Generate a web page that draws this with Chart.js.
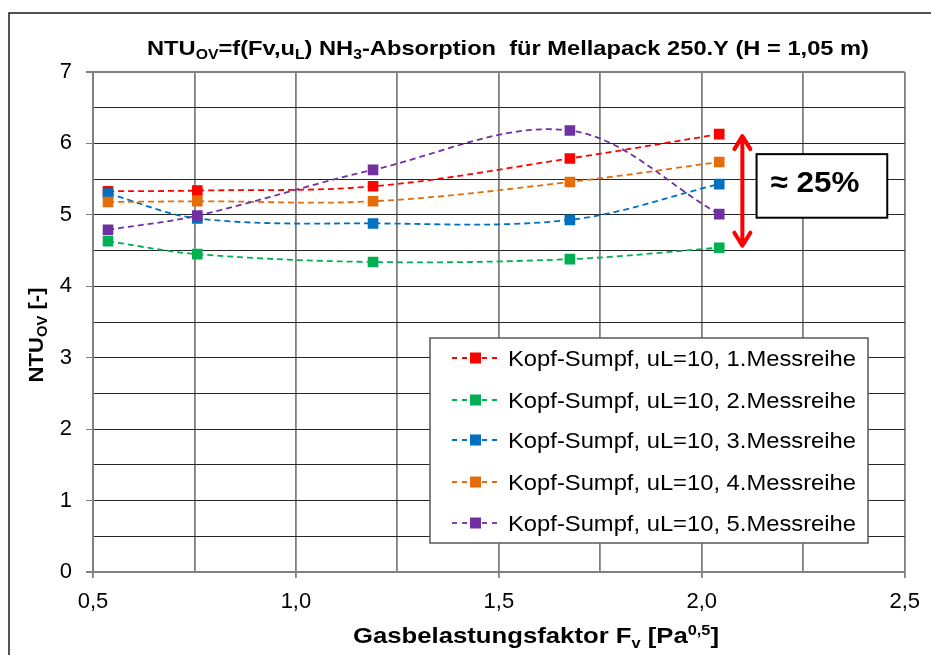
<!DOCTYPE html>
<html>
<head>
<meta charset="utf-8">
<script src="https://cdn.jsdelivr.net/npm/chart.js@4/dist/chart.umd.min.js"></script>
<style>
  html, body { margin: 0; padding: 0; background: #fff; }
  canvas { display: block; }
</style>
</head>
<body>
<canvas id="c" width="931" height="655"></canvas>
<script>
// Gas load factor Fv [Pa^0,5] of the five measuring points
const fvValues = [0.537, 0.757, 1.19, 1.675, 2.043];

// NTU_OV per measurement run
const messreihe1 = [5.33, 5.34, 5.40, 5.79, 6.13];
const messreihe2 = [4.63, 4.45, 4.34, 4.38, 4.54];
const messreihe3 = [5.30, 4.95, 4.88, 4.93, 5.43];
const messreihe4 = [5.18, 5.19, 5.19, 5.46, 5.74];
const messreihe5 = [4.79, 4.99, 5.63, 6.18, 5.01];

const seriesLabels = [
  'Kopf-Sumpf, uL=10, 1.Messreihe',
  'Kopf-Sumpf, uL=10, 2.Messreihe',
  'Kopf-Sumpf, uL=10, 3.Messreihe',
  'Kopf-Sumpf, uL=10, 4.Messreihe',
  'Kopf-Sumpf, uL=10, 5.Messreihe'
];
const seriesColors = ['#ff0000', '#00b050', '#0070c0', '#e46c0a', '#7030a0'];

const xTickLabels = ['0,5', '1,0', '1,5', '2,0', '2,5'];
const yTickLabels = ['0', '1', '2', '3', '4', '5', '6', '7'];

const spreadLabel = '≈ 25%';

const FONT = "'Liberation Sans', Arial, sans-serif";
const TEXT_SX = 1.08; // slightly widened lettering

const allSeries = [messreihe1, messreihe2, messreihe3, messreihe4, messreihe5];

const datasets = allSeries.map((vals, i) => ({
  label: seriesLabels[i],
  data: vals.map((v, k) => ({ x: fvValues[k], y: v })),
  borderColor: seriesColors[i],
  backgroundColor: seriesColors[i],
  borderWidth: 1.8,
  borderDash: [6, 4],
  tension: 0.35,
  pointStyle: 'rect',
  pointRadius: 7.5,
  pointBorderWidth: 0,
  pointHoverRadius: 7.5,
  order: allSeries.length - i   // later runs on top
}));

function richWidth(ctx, parts, size, weight) {
  let w = 0;
  for (const [t, m] of parts) {
    const s = m === 'n' ? size : Math.round(size * 0.65);
    ctx.font = `${weight} ${s}px ${FONT}`;
    w += ctx.measureText(t).width;
  }
  return w;
}

// text with sub/superscript runs, centred on (cx, cy); fitW stretches it to a given width
function drawRich(ctx, parts, cx, cy, size, weight, sx, align, fitW) {
  ctx.save();
  ctx.translate(cx, cy);
  const w = richWidth(ctx, parts, size, weight);
  if (fitW) sx = fitW / w;
  ctx.scale(sx, 1);
  let x = align === 'left' ? 0 : -w / 2;
  ctx.textBaseline = 'alphabetic';
  ctx.textAlign = 'left';
  ctx.fillStyle = '#000';
  const base = size * 0.358;
  for (const [t, m] of parts) {
    const s = m === 'n' ? size : Math.round(size * 0.65);
    ctx.font = `${weight} ${s}px ${FONT}`;
    const dy = m === 'sub' ? size * 0.22 : (m === 'sup' ? -size * 0.36 : 0);
    ctx.fillText(t, x, base + dy);
    x += ctx.measureText(t).width;
  }
  ctx.restore();
}

const decorPlugin = {
  id: 'decor',
  beforeDraw(chart) {
    const ctx = chart.ctx;
    ctx.save();
    ctx.fillStyle = '#fff';
    ctx.fillRect(0, 0, chart.width, chart.height);
    ctx.restore();
  },
  afterDraw(chart) {
    const ctx = chart.ctx;
    const xs = chart.scales.x, ys = chart.scales.y;

    // outer frame
    ctx.save();
    ctx.strokeStyle = '#1a1a1a';
    ctx.lineWidth = 1.5;
    ctx.beginPath();
    ctx.moveTo(9, chart.height + 2);
    ctx.lineTo(9, 13);
    ctx.lineTo(chart.width + 2, 13);
    ctx.stroke();
    ctx.restore();

    // chart title
    drawRich(ctx, [
      ['NTU', 'n'], ['OV', 'sub'], ['=f(Fv,u', 'n'], ['L', 'sub'],
      [') NH', 'n'], ['3', 'sub'], ['-Absorption  für Mellapack 250.Y (H = 1,05 m)', 'n']
    ], 508, 47, 21, 'bold', 1, 'center', 722);

    // axis titles
    drawRich(ctx, [
      ['Gasbelastungsfaktor F', 'n'], ['v', 'sub'], [' [Pa', 'n'], ['0,5', 'sup'], [']', 'n']
    ], 536, 635, 22, 'bold', 1, 'center', 366);

    ctx.save();
    ctx.translate(35, 335);
    ctx.rotate(-Math.PI / 2);
    drawRich(ctx, [['NTU', 'n'], ['OV', 'sub'], [' [-]', 'n']], 0, 0, 21, 'bold', 1, 'center', 95);
    ctx.restore();

    // legend
    const lx0 = 430, ly0 = 338, lx1 = 868, ly1 = 543;
    ctx.save();
    ctx.fillStyle = '#fff';
    ctx.fillRect(lx0, ly0, lx1 - lx0, ly1 - ly0);
    ctx.strokeStyle = '#595959';
    ctx.lineWidth = 1.5;
    ctx.strokeRect(lx0, ly0, lx1 - lx0, ly1 - ly0);
    const rowY = [358, 400, 440, 482, 523];
    chart.data.datasets.forEach((ds, i) => {
      const y = rowY[i];
      ctx.strokeStyle = ds.borderColor;
      ctx.lineWidth = 1.8;
      ctx.setLineDash([5, 5]);
      ctx.beginPath();
      ctx.moveTo(452, y);
      ctx.lineTo(500, y);
      ctx.stroke();
      ctx.setLineDash([]);
      ctx.fillStyle = ds.backgroundColor;
      ctx.fillRect(470, y - 5.5, 11, 11);
      drawRich(ctx, [[ds.label, 'n']], 508, y, 22, 'normal', TEXT_SX, 'left');
    });
    ctx.restore();

    // spread marker at the last measuring point
    const ax = xs.getPixelForValue(2.1);
    const aTop = ys.getPixelForValue(messreihe1[4]);
    const aBot = ys.getPixelForValue(messreihe2[4]);
    ctx.save();
    ctx.strokeStyle = '#ff0000';
    ctx.lineWidth = 4;
    ctx.lineCap = 'round';
    ctx.lineJoin = 'round';
    ctx.beginPath();
    ctx.moveTo(ax, aTop + 2);
    ctx.lineTo(ax, aBot - 2);
    ctx.moveTo(ax - 8, aTop + 15);
    ctx.lineTo(ax, aTop + 2);
    ctx.lineTo(ax + 8, aTop + 15);
    ctx.moveTo(ax - 8, aBot - 15);
    ctx.lineTo(ax, aBot - 2);
    ctx.lineTo(ax + 8, aBot - 15);
    ctx.stroke();
    ctx.restore();

    const bx0 = xs.getPixelForValue(2.135), bx1 = xs.getPixelForValue(2.457);
    const by0 = ys.getPixelForValue(5.85), by1 = ys.getPixelForValue(4.96);
    ctx.save();
    ctx.fillStyle = '#fff';
    ctx.fillRect(bx0, by0, bx1 - bx0, by1 - by0);
    ctx.strokeStyle = '#000';
    ctx.lineWidth = 2;
    ctx.strokeRect(bx0, by0, bx1 - bx0, by1 - by0);
    ctx.restore();
    drawRich(ctx, [[spreadLabel, 'n']], (bx0 + bx1) / 2 - 7, (by0 + by1) / 2 - 5, 30, 'bold', 1, 'center', 89);
  }
};

const isMultiple = (v, step) => Math.abs(v / step - Math.round(v / step)) < 1e-6;

new Chart(document.getElementById('c'), {
  type: 'line',
  data: { datasets },
  plugins: [decorPlugin],
  options: {
    responsive: false,
    animation: false,
    devicePixelRatio: 1,
    layout: { padding: { top: 72, right: 23, left: 0, bottom: 0 } },
    plugins: {
      legend: { display: false },
      title: { display: false },
      tooltip: { enabled: false }
    },
    scales: {
      x: {
        type: 'linear',
        min: 0.5,
        max: 2.5,
        afterFit(scale) { scale.height = 83; },
        afterBuildTicks(scale) {
          const t = [];
          for (let v = 0.5; v <= 2.5001; v += 0.25) t.push({ value: Math.round(v * 100) / 100 });
          scale.ticks = t;
        },
        ticks: {
          autoSkip: false,
          maxRotation: 0,
          padding: 11,
          color: '#000',
          font: { family: FONT, size: 22 },
          callback: (v) => isMultiple(v - 0.5, 0.5) ? xTickLabels[Math.round((v - 0.5) / 0.5)] : ''
        },
        grid: {
          color: '#808080',
          lineWidth: 1.8,
          tickLength: 6,
          tickColor: (c) => (c.tick && isMultiple(c.tick.value, 0.5)) ? '#808080' : 'rgba(0,0,0,0)'
        },
        border: { display: true, color: '#808080', width: 2 }
      },
      y: {
        min: 0,
        max: 7,
        afterFit(scale) { scale.width = 93; },
        afterBuildTicks(scale) {
          const t = [];
          for (let v = 0; v <= 7.0001; v += 0.5) t.push({ value: v });
          scale.ticks = t;
        },
        ticks: {
          autoSkip: false,
          padding: 14,
          color: '#000',
          font: { family: FONT, size: 22 },
          callback: (v) => isMultiple(v, 1) ? yTickLabels[Math.round(v)] : ''
        },
        grid: {
          color: (c) => (c.tick && (c.tick.value === 7 || c.tick.value === 0)) ? '#808080' : '#262626',
          lineWidth: (c) => (c.tick && (c.tick.value === 7 || c.tick.value === 0)) ? 2 : 1,
          tickLength: 7,
          tickColor: (c) => (c.tick && isMultiple(c.tick.value, 1)) ? '#808080' : 'rgba(0,0,0,0)'
        },
        border: { display: true, color: '#808080', width: 2 }
      }
    }
  }
});
</script>
</body>
</html>
